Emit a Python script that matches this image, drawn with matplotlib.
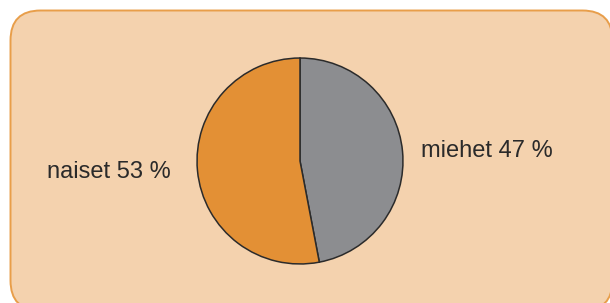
import matplotlib.pyplot as plt
from matplotlib.patches import FancyBboxPatch

# Dane
labels = ['miehet', 'naiset']
shares = [47, 53]
colors = ['#8c8d90', '#e39035']

W, H = 610, 303
fig = plt.figure(figsize=(W / 100, H / 100), dpi=100)
fig.patch.set_facecolor('white')

# Tło z zaokrąglonymi rogami
bg = fig.add_axes([0, 0, 1, 1])
bg.set_xlim(0, W)
bg.set_ylim(H, 0)
bg.axis('off')
box = FancyBboxPatch((10.5, 10.5), 602, 300,
                     boxstyle='round,pad=0,rounding_size=30',
                     facecolor='#f4d2ae', edgecolor='#e89e4a', linewidth=1.4)
bg.add_patch(box)

# Wykres kołowy
cx, cy, r = 300, 161, 104
ax = fig.add_axes([(cx - r) / W, (H - cy - r) / H, 2 * r / W, 2 * r / H])
ax.pie(shares, colors=colors, startangle=90, counterclock=False,
       wedgeprops=dict(edgecolor='#2b2b2b', linewidth=1.1))
ax.set_xlim(-1.01, 1.01)
ax.set_ylim(-1.01, 1.01)
ax.axis('off')

# Etykiety
font = dict(family=['Liberation Sans', 'DejaVu Sans'], fontsize=17, color='#2a2a2a')
bg.text(421, 157, f'{labels[0]} {shares[0]} %', ha='left', va='baseline', **font)
bg.text(47, 178, f'{labels[1]} {shares[1]} %', ha='left', va='baseline', **font)

fig.savefig('out.png', dpi=100)
